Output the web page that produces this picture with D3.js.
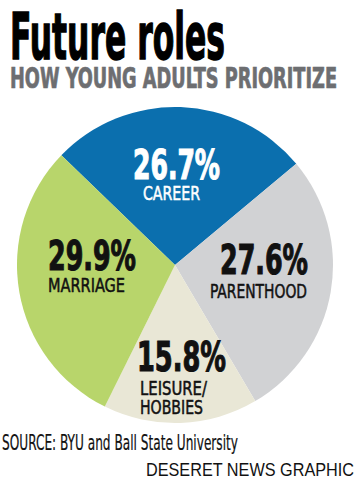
<!DOCTYPE html>
<html>
<head>
<meta charset="utf-8">
<script src="https://cdn.jsdelivr.net/npm/d3@7"></script>
<style>
  html, body { margin: 0; padding: 0; background: #fff; }
  svg { display: block; }
</style>
</head>
<body>
<svg id="chart" width="355" height="480"></svg>
<script>
// ---- data ----
const categories = ["CAREER", "PARENTHOOD", "LEISURE/\nHOBBIES", "MARRIAGE"];
const values = [26.7, 27.6, 15.8, 29.9];
const valueLabels = ["26.7%", "27.6%", "15.8%", "29.9%"];
const colors = ["#0b6fae", "#d1d2d4", "#e9e7d6", "#b8d56b"];
const textColors = ["#ffffff", "#111111", "#111111", "#111111"];

const title = "Future roles";
const subtitle = "HOW YOUNG ADULTS PRIORITIZE";
const source = "SOURCE: BYU and Ball State University";
const credit = "DESERET NEWS GRAPHIC";

// ---- layout ----
const W = 355, H = 480;
const cx = 175, cy = 265, R = 158;
const startDeg = -46;
const condensed = "'Liberation Sans Narrow', 'DejaVu Sans Condensed', 'Roboto Condensed', 'Arial Narrow', sans-serif";
const regular = "'Liberation Sans', Arial, Helvetica, sans-serif";

// label layout: percent line (x, baseline, width), category lines (x, baseline, width)
const labelLayout = [
  { px: 133, py: 179, pw: 87, lines: [{ x: 143, y: 200, w: 57 }] },
  { px: 220, py: 274, pw: 88, lines: [{ x: 210, y: 298, w: 97 }] },
  { px: 137, py: 371, pw: 89, lines: [{ x: 140, y: 395, w: 67 }, { x: 140, y: 414, w: 63 }] },
  { px: 48,  py: 270, pw: 88, lines: [{ x: 48,  y: 292, w: 77 }] }
];

const svg = d3.select("#chart");

// title
svg.append("text")
  .attr("x", 10).attr("y", 59)
  .attr("font-family", condensed).attr("font-weight", "bold")
  .attr("font-size", 64)
  .attr("textLength", 215).attr("lengthAdjust", "spacingAndGlyphs")
  .attr("fill", "#000").attr("stroke", "#000").attr("stroke-width", 1.4)
  .text(title);

svg.append("text")
  .attr("x", 10).attr("y", 88)
  .attr("font-family", condensed).attr("font-weight", "bold")
  .attr("font-size", 27.5)
  .attr("textLength", 327).attr("lengthAdjust", "spacingAndGlyphs")
  .attr("fill", "#6d6e71").attr("stroke", "#6d6e71").attr("stroke-width", 0.7)
  .text(subtitle);

// pie
const data = categories.map((c, i) => ({ category: c, value: values[i], label: valueLabels[i], color: colors[i], text: textColors[i] }));
const start = startDeg * Math.PI / 180;
const pie = d3.pie().value(d => d.value).sort(null).startAngle(start).endAngle(start + 2 * Math.PI);
const arc = d3.arc().innerRadius(0).outerRadius(R);
const arcs = pie(data);

const g = svg.append("g").attr("transform", `translate(${cx},${cy})`);
g.selectAll("path.slice").data(arcs).enter().append("path")
  .attr("class", "slice")
  .attr("d", arc)
  .attr("fill", d => d.data.color);

// labels
const lg = svg.append("g");
arcs.forEach((a, i) => {
  const L = labelLayout[i];
  lg.append("text")
    .attr("x", L.px).attr("y", L.py)
    .attr("font-family", condensed).attr("font-weight", "bold")
    .attr("font-size", 40)
    .attr("textLength", L.pw).attr("lengthAdjust", "spacingAndGlyphs")
    .attr("fill", a.data.text).attr("stroke", a.data.text).attr("stroke-width", 1.1)
    .text(a.data.label);
  const lines = a.data.category.split("\n");
  lines.forEach((ln, j) => {
    const p = L.lines[j];
    lg.append("text")
      .attr("x", p.x).attr("y", p.y)
      .attr("font-family", condensed).attr("font-weight", "normal")
      .attr("font-size", 19.5)
      .attr("textLength", p.w).attr("lengthAdjust", "spacingAndGlyphs")
      .attr("fill", a.data.text).attr("stroke", a.data.text).attr("stroke-width", 0.5)
      .text(ln);
  });
});

// source & credit
svg.append("text")
  .attr("x", 2).attr("y", 450)
  .attr("font-family", condensed)
  .attr("font-size", 20.5)
  .attr("textLength", 236).attr("lengthAdjust", "spacingAndGlyphs")
  .attr("fill", "#111").attr("stroke", "#111").attr("stroke-width", 0.2)
  .text(source);

svg.append("text")
  .attr("x", 146).attr("y", 476)
  .attr("font-family", regular)
  .attr("font-size", 18)
  .attr("textLength", 208).attr("lengthAdjust", "spacingAndGlyphs")
  .attr("fill", "#111")
  .text(credit);
</script>
</body>
</html>
